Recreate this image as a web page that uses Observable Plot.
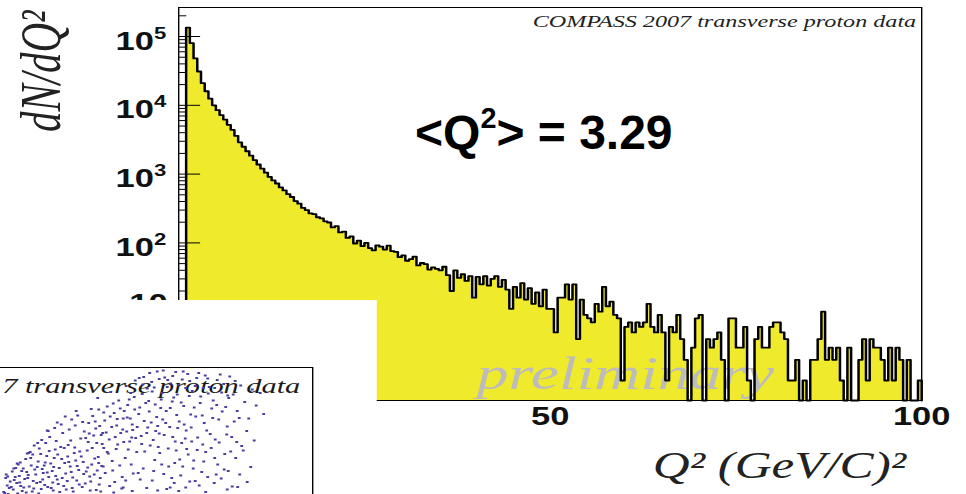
<!DOCTYPE html>
<html><head><meta charset="utf-8">
<script src="https://cdn.jsdelivr.net/npm/d3@7"></script>
<script src="https://cdn.jsdelivr.net/npm/@observablehq/plot@0.6"></script>
<style>
html,body{margin:0;padding:0;background:#fff;}
#wrap{position:relative;width:966px;height:494px;overflow:hidden;background:#fff;}
#stretch{position:absolute;left:0;top:0;width:700px;height:494px;transform:scaleX(1.38);transform-origin:0 0;}
#main{position:absolute;left:0;top:0;width:700px;height:494px;}
#main svg{max-width:none;width:700px;height:494px;}
#inset{position:absolute;left:0;top:300px;width:272.5px;height:194px;background:#fff;overflow:hidden;}
#inset svg{position:absolute;left:-140px;top:0;max-width:none;width:376px;height:327px;}
#mean{position:absolute;left:415px;top:109px;font-family:"Liberation Sans",Arial,sans-serif;font-weight:bold;font-size:48px;line-height:48px;white-space:nowrap;color:#000;}
#mean sup{font-size:0.6em;vertical-align:baseline;position:relative;top:-0.72em;}
</style></head><body>
<div id="wrap">
  <div id="stretch"><div id="main"></div><div id="inset"></div></div>
  <div id="mean">&lt;Q<sup>2</sup>&gt; = 3.29</div>
</div>
<script>
// ---- data: dN/dQ^2 histogram, bins of 0.5 (GeV/c)^2 from 0 to 100 ----
const binStart = 0;
const binWidth = 0.5;
const counts = [
  0, 0, 135000, 80000, 48000, 31000, 21000, 16000, 12500, 10000,
  8500, 7200, 6200, 5200, 4400, 3600, 2900, 2500, 2150, 1850,
  1600, 1380, 1200, 1050, 910, 810, 730, 640, 580, 510,
  465, 405, 372, 322, 300, 268, 262, 236, 228, 206,
  198, 168, 175, 142, 146, 118, 124, 98, 108, 90,
  100, 84, 78, 92, 88, 80, 91, 76, 74, 62,
  66, 55, 58, 63, 47, 51, 49, 41, 44, 42,
  40, 45, 34, 20, 40, 31, 35, 28, 33, 16,
  32, 25, 33, 24, 30, 33, 23, 29, 21, 11,
  23, 16, 26, 15, 22, 13, 19, 12, 21, 11,
  11, 5, 16, 16, 25, 15, 25, 4, 15, 9,
  8, 7, 13, 10, 23, 12, 14, 9, 8, 1,
  6, 7, 5, 7, 6, 7, 13, 6, 5, 9,
  5, 1, 6, 5, 9, 4, 2, 0, 3, 8,
  9, 0, 4, 3, 4, 5, 2, 0, 8, 8,
  3, 3, 6, 1, 0, 4, 6, 3, 3, 6,
  7, 7, 5, 4, 1, 1, 2, 0, 1, 0,
  2, 2, 4, 10, 2, 3, 2, 3, 1, 0,
  3, 0, 0, 2, 4, 1, 4, 3, 3, 2,
  1, 3, 1, 3, 2, 0, 2, 0, 0, 1
];
const xTicks = [0, 50, 100];
const yMajor = [1, 10, 100, 1000, 10000, 100000];
const yMinor = [0.6, 0.7, 0.8, 0.9, 2, 3, 4, 5, 6, 7, 8, 9, 20, 30, 40, 50, 60, 70, 80, 90,
  200, 300, 400, 500, 600, 700, 800, 900, 2000, 3000, 4000, 5000, 6000, 7000, 8000, 9000,
  20000, 30000, 40000, 50000, 60000, 70000, 80000, 90000, 200000];
const yLabelTicks = [100, 1000, 10000, 100000];
const yLabelExp = ["2", "3", "4", "5"];
const yTenTick = [10];
const mainTitle = "COMPASS 2007 transverse proton data";
const yTitle = "dN/dQ²";
const xTitle = "Q² (GeV/C)²";
const watermark = "preliminary";

// inset scatter (partially visible), arbitrary units
const insetPoints = [
  [38.2,25.1],[38.9,26.4],[39.5,27.2],[40.1,25.6],[40.8,26.9],[41.3,28.3],[41.9,25.3],[42.4,27.7],[42.8,29.1],[43.3,26.2],
  [43.7,30.4],[44.2,25.8],[44.6,28.6],[45.1,31.2],[45.5,27.1],[45.9,29.7],[46.4,26.5],[46.8,32.3],[47.2,28.1],[47.6,30.8],
  [48.1,25.4],[48.5,33.6],[48.9,27.6],[49.3,29.9],[49.8,31.7],[50.2,26.3],[50.6,28.8],[51.1,34.5],[51.5,30.2],[51.9,25.9],
  [52.3,32.9],[52.8,27.4],[53.2,29.5],[53.6,35.8],[54.1,31.1],[54.5,26.8],[54.9,33.4],[55.4,28.2],[55.8,30.6],[56.2,36.4],
  [56.7,25.5],[57.1,32.1],[57.5,27.9],[57.9,34.7],[39.3,25.9],[40.5,28.1],[41.6,26.3],[42.1,29.8],[43.0,27.9],[43.9,25.2],
  [44.9,30.1],[45.7,25.7],[46.1,28.9],[47.0,26.1],[47.9,29.3],[48.3,31.9],[49.1,26.7],[49.6,34.1],[50.4,30.9],[50.9,27.3],
  [51.7,29.1],[52.1,25.2],[52.6,31.4],[53.4,33.2],[53.9,26.1],[54.7,29.2],[55.1,35.1],[55.6,27.2],[56.4,31.8],[56.9,29.4],
  [57.3,26.6],[57.8,30.3],[58.2,33.9],[44.0,32.6],[45.3,33.8],[46.6,34.9],[47.4,36.1],[48.7,35.3],[50.0,36.9],[51.3,37.6],
  [52.5,38.4],[38.6,27.9],[39.9,29.2],[41.1,30.6],[42.6,31.7],[43.5,33.1],[46.3,30.4],[48.0,27.0],[51.0,32.2],[54.3,37.2],
  [55.2,38.9],[56.0,40.3],[56.6,37.8],[57.2,41.6],[57.7,36.5],[58.4,39.4],[58.9,42.2],[59.3,35.6],[59.8,38.1],[60.3,40.9],
  [60.7,33.7],[61.2,43.4],[61.6,36.9],[62.1,39.8],[62.5,31.9],[63.0,42.5],[63.4,35.2],[63.9,38.6],[64.3,44.1],[64.8,33.1],
  [65.2,40.7],[65.7,36.3],[66.1,29.8],[66.6,42.9],[67.0,38.0],[67.5,34.4],[67.9,45.2],[68.4,31.5],[68.8,40.1],[69.3,36.8],
  [69.7,43.6],[70.2,28.7],[70.6,38.9],[71.1,33.8],[71.5,41.9],[72.0,36.1],[72.4,30.9],[72.9,44.6],[73.3,39.2],[73.8,34.9],
  [74.2,42.3],[74.7,37.4],[75.1,32.6],[75.6,40.6],[58.1,30.2],[59.1,32.8],[60.0,29.4],[61.0,34.6],[61.9,28.1],[62.8,37.2],
  [63.7,30.6],[64.6,35.9],[65.5,27.6],[66.4,33.2],[67.3,41.2],[68.2,29.3],[69.1,34.1],[70.0,39.6],[71.8,27.9],[72.7,33.4],
  [73.6,28.4],[74.5,35.8],[60.5,36.1],[62.3,41.3],[64.0,37.5],[65.9,44.7],[68.6,37.3],[70.9,46.1],[57.0,43.9],[59.6,45.1],
  [62.7,46.3],[64.5,47.4],[66.2,48.1],[67.8,47.1],[68.9,49.2],[70.4,48.0],[71.6,46.8],[72.6,49.1],[73.9,47.6],[75.0,48.7],
  [75.9,45.3],[76.8,47.9],[77.6,44.2],[78.5,48.4],[79.3,46.1],[80.1,43.4],[80.9,47.5],[81.8,45.0],[82.6,42.1],[83.4,48.2],
  [84.1,44.6],[84.9,41.3],[85.6,46.4],[86.4,43.1],[87.2,39.8],[87.9,45.6],[88.7,42.4],[89.5,44.9],[90.2,40.7],[76.3,42.0],
  [77.9,40.4],[79.8,41.8],[81.2,39.6],[82.9,38.2],[74.6,45.9],[72.2,44.0],[69.6,41.9],[66.9,45.8],[63.6,44.9],[78.8,37.4],
  [83.8,36.1],[86.8,37.3],[88.3,35.4],[85.3,39.9],[80.5,35.6],
  [70.8,25.7],[72.3,26.9],[73.2,25.3],[74.0,30.2],[75.4,27.2],[76.1,29.8],[76.9,33.5],[77.3,26.4],[78.2,31.2],[79.0,28.1],
  [79.7,33.9],[80.3,26.9],[81.0,30.6],[81.7,27.8],[82.4,32.7],[83.1,29.3],[83.9,26.2],[84.6,31.9],[85.4,28.6],[86.1,33.4],
  [86.9,27.1],[87.6,30.1],[75.8,35.2],[78.0,34.6],[73.0,37.9],
  [38.4,24.9],[38.7,28.6],[39.1,24.7],[39.7,26.1],[40.3,27.5],[40.6,29.9],[41.0,24.8],[41.4,27.0],[41.8,29.3],[42.2,26.0],
  [42.7,25.0],[43.1,28.5],[43.6,31.9],[44.1,27.3],[44.4,29.6],[44.8,26.9],[45.2,24.8],[45.6,32.7],[46.0,27.6],[46.5,31.0],
  [46.9,29.0],[47.3,33.3],[47.7,25.9],[48.2,30.1],[48.6,28.3],[49.0,32.6],[49.4,25.1],[49.9,27.9],[50.3,33.9],[50.7,25.6],
  [51.2,31.1],[51.6,35.4],[52.0,28.0],[52.4,34.0],[52.9,30.3],[53.3,26.6],[53.7,32.2],[54.2,28.7],[54.6,35.9],[55.0,30.0],
  [55.5,25.4],[55.9,33.9],[56.3,28.6],[56.8,34.9],[57.2,30.9],[57.6,25.2],[58.0,36.9],[58.5,28.9],[58.9,33.1],[59.4,26.3],
  [59.9,31.3],[60.4,27.1],[60.8,38.4],[61.4,30.4],[61.8,25.8],[62.2,35.1],[62.6,27.4],[63.1,33.6],[63.5,39.8],[64.1,28.8],
  [40.2,29.8],[41.5,31.0],[42.9,32.8],[44.3,34.4],[45.8,35.5],[47.1,37.3],[48.4,37.9],[49.7,38.6],[51.8,39.6],[53.0,40.4],
  [54.0,39.1],[55.7,41.7],[39.0,28.2],[40.9,30.8],[43.2,32.9],[45.0,34.9],[46.9,37.4],[48.9,39.0],[50.5,40.2],[52.7,41.3],
  [55.3,36.8],[56.5,39.2],[57.4,38.3],[58.2,41.0],[58.7,37.0],[59.5,40.2],[60.1,42.8],[60.9,39.7],[61.5,41.8],[62.0,37.6],
  [62.9,40.0],[63.3,43.6],[63.8,36.0],[64.4,41.6],[64.9,38.1],[65.4,42.0],[65.8,34.7],[66.3,39.3],[66.8,36.9],[67.2,43.3],
  [67.7,39.0],[68.1,35.5],[68.5,42.6],[69.0,38.3],[69.4,32.9],[69.9,44.9],[70.3,36.5],[70.7,41.3],[71.2,30.2],[71.4,38.1],
  [71.9,43.2],[72.5,35.2],[72.8,40.5],[73.4,31.6],[73.7,43.0],[74.3,38.6],[74.8,33.7],[75.3,44.3],[75.7,38.0],[76.2,31.4],
  [76.6,40.2],[77.0,36.0],[77.5,42.9],[77.8,29.1],[78.3,38.9],[78.6,33.1],[79.1,44.8],[79.5,36.7],[80.0,39.9],[80.4,31.9],
  [80.8,42.5],[81.3,35.0],[81.9,41.2],[82.3,29.6],[82.8,36.6],[83.2,43.9],[83.6,33.2],[84.3,39.2],[84.8,35.1],[85.8,34.3],
  [65.3,47.9],[66.0,46.6],[67.4,48.9],[68.3,46.0],[69.3,47.7],[70.1,49.4],[71.0,47.5],[72.0,48.3],[73.1,46.5],[74.1,49.2],
  [75.4,47.3],[76.5,46.3],[77.2,48.9],[78.1,45.9],[79.0,47.8],[80.4,45.9],[81.5,48.6],[82.2,46.7],[83.0,44.4],[84.5,47.3],
  [60.2,25.0],[62.1,26.0],[63.9,25.3],[65.1,28.9],[66.8,25.9],[67.9,27.4],[69.0,25.4],[69.8,30.6],[71.5,26.0],[74.6,26.0],
  [76.5,27.3],[78.6,25.1],[80.7,28.6],[82.9,25.6],[85.0,26.1]
];
// only the right-hand part of the inset's title is visible in the reference
const insetTitle = "7 transverse proton data";

// ---- build ----
const sans = "'Liberation Sans', Arial, Helvetica, sans-serif";
const serif = "'Liberation Serif', 'Times New Roman', Times, serif";
const yMin = 0.512, yMax = 2.64e5;
const bins = counts.map((n, i) => ({lo: binStart + i * binWidth, n}));
const stepPts = bins.map(b => ({x: b.lo, y: Math.max(b.n, yMin)}));
stepPts.push({x: binStart + counts.length * binWidth, y: yMin});

const W = 700, H = 494, mL = 129, mR = 32.6, mT = 7, mB = 94;
const frameW = W - mL - mR;

const main = Plot.plot({
  width: W, height: H, marginLeft: mL, marginRight: mR, marginTop: mT, marginBottom: mB,
  style: {background: "transparent", overflow: "visible"},
  x: {domain: [0, 100], axis: null},
  y: {type: "log", domain: [yMin, yMax], axis: null},
  marks: [
    Plot.areaY(stepPts, {x: "x", y1: yMin, y2: "y", curve: "step-after", fill: "#efea2b"}),
    Plot.text([watermark], {frameAnchor: "bottom-left", dx: 216, dy: -12, textAnchor: "start", lineAnchor: "bottom",
      fontSize: 46, fontStyle: "italic", fontFamily: serif, fill: "#bcbcbc"}),
    Plot.line(stepPts, {x: "x", y: "y", curve: "step-after", stroke: "#000", strokeWidth: 1.8}),
    Plot.tickY(yMinor, {y: d => d, stroke: "#000", insetRight: frameW - 6}),
    Plot.tickY(yMajor, {y: d => d, stroke: "#000", insetRight: frameW - 16}),
    Plot.frame({stroke: "#000", strokeWidth: 1}),
    Plot.text(yLabelTicks, {y: d => d, text: () => "10", frameAnchor: "left", dx: -18, dy: 5, textAnchor: "end",
      lineAnchor: "middle", fontSize: 25, fontWeight: "bold", fontFamily: sans, fill: "#111"}),
    Plot.text(yLabelTicks, {y: d => d, text: (d, i) => yLabelExp[i], frameAnchor: "left", dx: -9, dy: -3, textAnchor: "end",
      lineAnchor: "middle", fontSize: 16, fontWeight: "bold", fontFamily: sans, fill: "#111"}),
    Plot.text(yTenTick, {y: d => d, text: () => "10", frameAnchor: "left", dx: -8, dy: -8, textAnchor: "end",
      lineAnchor: "middle", fontSize: 25, fontWeight: "bold", fontFamily: sans, fill: "#111"}),
    Plot.text(xTicks, {x: d => d, text: d => String(d), frameAnchor: "bottom", dy: 16, lineAnchor: "middle",
      fontSize: 25, fontWeight: "bold", fontFamily: sans, fill: "#111"}),
    Plot.text([mainTitle], {frameAnchor: "top-right", dx: -4, dy: 19, textAnchor: "end", lineAnchor: "bottom",
      fontSize: 17.5, fontStyle: "italic", fontFamily: serif, fill: "#222"}),
    Plot.text([yTitle], {frameAnchor: "top-left", dx: -86, dy: 3, rotate: -90, textAnchor: "end", lineAnchor: "bottom",
      fontSize: 41, fontStyle: "italic", fontFamily: serif, fill: "#222"}),
    Plot.text([xTitle], {frameAnchor: "bottom-right", dx: -11.4, dy: 77, textAnchor: "end", lineAnchor: "bottom",
      fontSize: 37, fontStyle: "italic", fontFamily: serif, fill: "#222"})
  ]
});
document.getElementById("main").appendChild(main);

const inset = Plot.plot({
  width: 376, height: 327, marginLeft: 3.8, marginRight: 9.9, marginTop: 67, marginBottom: 10,
  style: {background: "transparent"},
  x: {domain: [0, 100], axis: null},
  y: {domain: [0, 50], axis: null},
  marks: [
    Plot.frame({stroke: "#000", strokeWidth: 1}),
    Plot.text([insetTitle], {frameAnchor: "top-right", dx: -9, dy: 25, textAnchor: "end", lineAnchor: "bottom",
      fontSize: 22, fontStyle: "italic", fontFamily: serif, fill: "#1a1a1a"}),
    Plot.dot(insetPoints, {x: d => d[0], y: d => d[1], r: 1.15, symbol: "square", fill: "#473fa0", stroke: "none"})
  ]
});
document.getElementById("inset").appendChild(inset);
</script></body></html>
